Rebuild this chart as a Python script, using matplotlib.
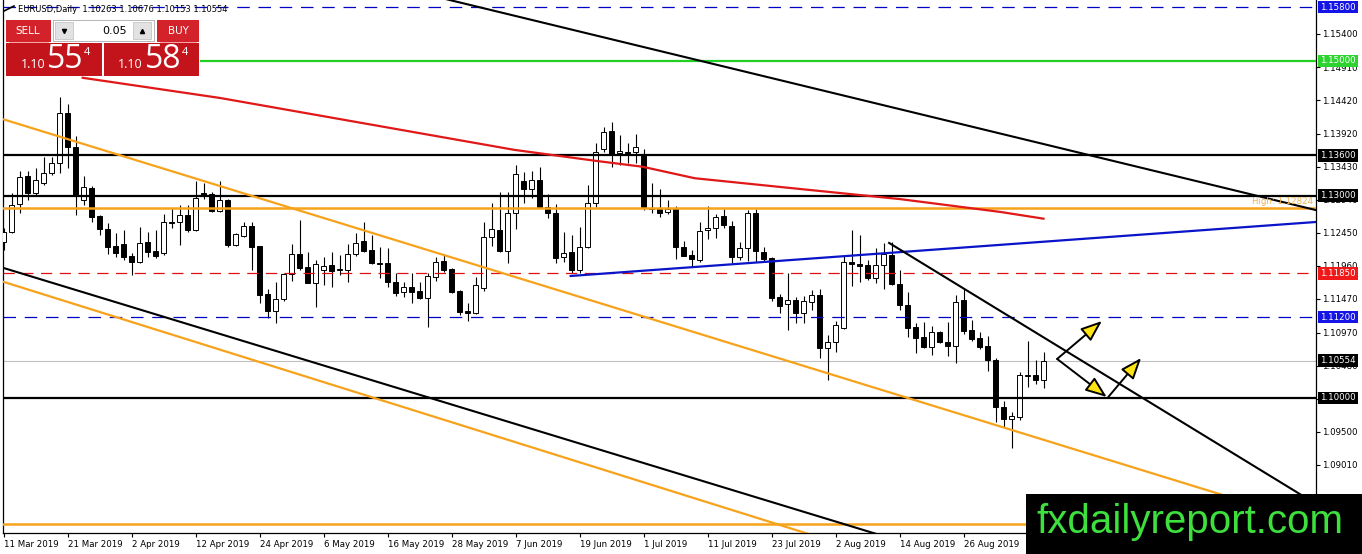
import matplotlib
matplotlib.use('Agg')
import matplotlib.pyplot as plt
import matplotlib.transforms as mtrans
from matplotlib.patches import Rectangle
import numpy as np
import pandas as pd

# ---------------- data ----------------
start_date = '2019-03-11'
opens = [1.1231, 1.1246, 1.1288, 1.1329, 1.1304, 1.1319, 1.1334, 1.1349, 1.1423, 1.1372,
         1.1294, 1.1312, 1.1270, 1.1251, 1.1225, 1.1228, 1.1211, 1.1202, 1.1231, 1.1218,
         1.1215, 1.1261, 1.1261, 1.1271, 1.1249, 1.1304, 1.1303, 1.1277, 1.1294, 1.1227,
         1.1240, 1.1255, 1.1225, 1.1154, 1.1129, 1.1147, 1.1184, 1.1214, 1.1194, 1.1171,
         1.1190, 1.1197, 1.1190, 1.1190, 1.1214, 1.1233, 1.1220, 1.1200, 1.1200, 1.1172,
         1.1157, 1.1165, 1.1159, 1.1148, 1.1180, 1.1203, 1.1191, 1.1159, 1.1129, 1.1126,
         1.1163, 1.1239, 1.1249, 1.1218, 1.1274, 1.1322, 1.1310, 1.1323, 1.1283, 1.1274,
         1.1209, 1.1217, 1.1190, 1.1224, 1.1289, 1.1369, 1.1396, 1.1363, 1.1365, 1.1365,
         1.1359, 1.1282, 1.1282, 1.1276, 1.1280, 1.1224, 1.1212, 1.1205, 1.1249, 1.1252,
         1.1270, 1.1255, 1.1209, 1.1223, 1.1274, 1.1217, 1.1208, 1.1150, 1.1139, 1.1145,
         1.1126, 1.1142, 1.1153, 1.1074, 1.1083, 1.1104, 1.1202, 1.1199, 1.1197, 1.1178,
         1.1197, 1.1212, 1.1169, 1.1138, 1.1105, 1.1090, 1.1076, 1.1098, 1.1083, 1.1077,
         1.1145, 1.1101, 1.1089, 1.1077, 1.1056, 1.0987, 1.0969, 1.0972, 1.1033, 1.1034,
         1.10263]
highs = [1.1252, 1.1304, 1.1337, 1.1337, 1.1341, 1.1358, 1.1358, 1.1447, 1.1436, 1.1389,
         1.1329, 1.1315, 1.1272, 1.1260, 1.1245, 1.1249, 1.1215, 1.1254, 1.1246, 1.1249,
         1.1273, 1.1282, 1.1286, 1.1286, 1.1322, 1.1319, 1.1306, 1.1322, 1.1295, 1.1245,
         1.1261, 1.1261, 1.1226, 1.1162, 1.1172, 1.1185, 1.1228, 1.1264, 1.1217, 1.1205,
         1.1209, 1.1217, 1.1212, 1.1228, 1.1245, 1.1261, 1.1242, 1.1224, 1.1223, 1.1185,
         1.1172, 1.1185, 1.1172, 1.1185, 1.1209, 1.1214, 1.1193, 1.1160, 1.1141, 1.1180,
         1.1261, 1.1289, 1.1306, 1.1306, 1.1346, 1.1335, 1.1337, 1.1343, 1.1303, 1.1288,
         1.1246, 1.1242, 1.1254, 1.1316, 1.1378, 1.1402, 1.1409, 1.1390, 1.1378, 1.1392,
         1.1369, 1.1319, 1.1310, 1.1294, 1.1285, 1.1233, 1.1220, 1.1261, 1.1285, 1.1273,
         1.1280, 1.1263, 1.1231, 1.1279, 1.1280, 1.1224, 1.1209, 1.1154, 1.1185, 1.1150,
         1.1151, 1.1160, 1.1162, 1.1093, 1.1114, 1.1211, 1.1249, 1.1242, 1.1205, 1.1223,
         1.1230, 1.1231, 1.1190, 1.1157, 1.1111, 1.1113, 1.1107, 1.1099, 1.1113, 1.1153,
         1.1163, 1.1116, 1.1098, 1.1092, 1.1059, 1.0996, 1.0979, 1.1039, 1.1085, 1.1056,
         1.10676]
lows = [1.1220, 1.1245, 1.1274, 1.1294, 1.1301, 1.1316, 1.1331, 1.1334, 1.1341, 1.1271,
        1.1286, 1.1261, 1.1242, 1.1214, 1.1209, 1.1205, 1.1182, 1.1200, 1.1209, 1.1208,
        1.1212, 1.1252, 1.1227, 1.1246, 1.1247, 1.1295, 1.1276, 1.1276, 1.1224, 1.1225,
        1.1239, 1.1190, 1.1141, 1.1119, 1.1111, 1.1144, 1.1174, 1.1190, 1.1170, 1.1135,
        1.1168, 1.1165, 1.1182, 1.1172, 1.1211, 1.1217, 1.1199, 1.1178, 1.1165, 1.1151,
        1.1150, 1.1141, 1.1147, 1.1105, 1.1174, 1.1187, 1.1156, 1.1123, 1.1114, 1.1125,
        1.1159, 1.1225, 1.1217, 1.1200, 1.1251, 1.1289, 1.1297, 1.1282, 1.1267, 1.1200,
        1.1202, 1.1185, 1.1185, 1.1223, 1.1283, 1.1365, 1.1343, 1.1346, 1.1349, 1.1349,
        1.1279, 1.1274, 1.1269, 1.1273, 1.1206, 1.1210, 1.1194, 1.1202, 1.1236, 1.1237,
        1.1252, 1.1200, 1.1205, 1.1203, 1.1202, 1.1202, 1.1144, 1.1126, 1.1101, 1.1111,
        1.1111, 1.1131, 1.1059, 1.1027, 1.1068, 1.1102, 1.1166, 1.1172, 1.1175, 1.1171,
        1.1162, 1.1168, 1.1131, 1.1090, 1.1067, 1.1074, 1.1064, 1.1082, 1.1062, 1.1052,
        1.1095, 1.1085, 1.1073, 1.1040, 1.0964, 1.0957, 1.0926, 1.0967, 1.1016, 1.1021,
        1.10153]
closes = [1.1246, 1.1286, 1.1328, 1.1304, 1.1323, 1.1334, 1.1349, 1.1423, 1.1372, 1.1300,
          1.1313, 1.1269, 1.1251, 1.1224, 1.1215, 1.1209, 1.1202, 1.1230, 1.1217, 1.1211,
          1.1261, 1.1260, 1.1271, 1.1249, 1.1297, 1.1300, 1.1277, 1.1294, 1.1227, 1.1243,
          1.1255, 1.1224, 1.1153, 1.1129, 1.1147, 1.1184, 1.1214, 1.1193, 1.1171, 1.1199,
          1.1196, 1.1188, 1.1191, 1.1214, 1.1230, 1.1218, 1.1200, 1.1199, 1.1172, 1.1156,
          1.1165, 1.1157, 1.1148, 1.1181, 1.1202, 1.1190, 1.1157, 1.1128, 1.1126, 1.1168,
          1.1239, 1.1251, 1.1218, 1.1274, 1.1332, 1.1310, 1.1323, 1.1283, 1.1274, 1.1208,
          1.1215, 1.1190, 1.1224, 1.1289, 1.1365, 1.1395, 1.1362, 1.1366, 1.1364, 1.1372,
          1.1283, 1.1281, 1.1274, 1.1280, 1.1224, 1.1211, 1.1206, 1.1248, 1.1252, 1.1269,
          1.1257, 1.1209, 1.1223, 1.1274, 1.1218, 1.1206, 1.1148, 1.1136, 1.1145, 1.1126,
          1.1144, 1.1153, 1.1074, 1.1083, 1.1108, 1.1202, 1.1199, 1.1196, 1.1178, 1.1197,
          1.1214, 1.1169, 1.1138, 1.1104, 1.1089, 1.1076, 1.1098, 1.1083, 1.1077, 1.1142,
          1.1099, 1.1088, 1.1076, 1.1056, 1.0987, 1.0969, 1.0973, 1.1034, 1.1034, 1.1027,
          1.10554]

# moving average (red) anchors: bar index, price
ma_idx = [9.9, 27.1, 63.9, 73.9, 79.9, 86.4, 99.6, 112.1, 124.6, 130.0]
ma_val = [1.1475, 1.1445, 1.1368, 1.1352, 1.1343, 1.1326, 1.1310, 1.1295, 1.1276, 1.1266]

# analyst trend lines: (bar index pair, price pair)
tl_top_black = ([50.0, 165.0], [1.1607, 1.1276])
tl_low_black = ([-1.0, 115.0], [1.11965, 1.0777])
tl_orange_up = ([-1.0, 165.0], [1.1417, 1.0810])
tl_orange_low = ([-1.0, 105.0], [1.1176, 1.0782])
tl_blue = ([70.9, 165.0], [1.1181, 1.12619])
tl_short_black = ([110.7, 165.0], [1.1230, 1.0836])
tl_green = ([24.7, 165.0], [1.1500, 1.1500])

# arrows (from, to) in bar index / price
arrows = [((131.7, 1.10579), (137.3, 1.11142)),
          ((131.7, 1.10579), (137.9, 1.10015)),
          ((138.1, 1.10015), (142.2, 1.10593))]

# horizontal levels
lvl_top_blue = 1.15800
lvl_green = 1.15000
lvl_black1 = 1.13600
lvl_black2 = 1.13000
lvl_high = 1.12824
lvl_red = 1.11850
lvl_blue = 1.11200
lvl_bid = 1.10554
lvl_black3 = 1.10000
lvl_orange_bottom = 1.0813

ytick_vals = [1.15400, 1.14910, 1.14420, 1.13920, 1.13430, 1.12940, 1.12450, 1.11960,
              1.11470, 1.10970, 1.10480, 1.09990, 1.09500, 1.09010, 1.08520]
xtick_idx = [0, 8, 16, 24, 32, 40, 48, 56, 64, 72, 80, 88, 96, 104, 112, 120]

header = 'EURUSD,Daily  1.10263 1.10676 1.10153 1.10554'
bid_big, ask_big = '55', '58'

# ---------------- figure ----------------
W, H = 1362, 554
plt.rcParams['font.family'] = ['DejaVu Sans']
fig = plt.figure(figsize=(W / 100, H / 100), dpi=100)
fig.patch.set_facecolor('white')

ax_l, ax_r, ax_t, ax_b = 2.5, 1316, 0, 533
ax = fig.add_axes([ax_l / W, (H - ax_b) / H, (ax_r - ax_l) / W, (ax_b - ax_t) / H])
ax.set_facecolor('white')
ax.set_xlim(-0.125, 164.06)
ax.set_ylim(1.07997, 1.15904)

n = len(opens)
idx = np.arange(n)
o = np.array(opens); h = np.array(highs); l = np.array(lows); c = np.array(closes)
up = c >= o

ax.vlines(idx, l, h, color='black', lw=0.8, zorder=3)
body_b = np.minimum(o, c)
body_h = np.maximum(np.abs(c - o), 0.00002)
ax.bar(idx, body_h, bottom=body_b, width=0.62,
       color=np.where(up, 'white', 'black'), edgecolor='black', linewidth=0.7, zorder=4)

ORANGE = '#f7a21b'
# horizontal lines
ax.axhline(lvl_top_blue, color='#0000c0', lw=0.9, ls=(0, (10, 7)), zorder=5)
ax.axhline(lvl_black1, color='black', lw=1.6, zorder=5)
ax.axhline(lvl_black2, color='black', lw=1.6, zorder=5)
ax.axhline(lvl_high, color=ORANGE, lw=1.8, zorder=5)
ax.axhline(lvl_red, color='#e01010', lw=0.9, ls=(0, (9, 6)), zorder=5)
ax.axhline(lvl_blue, color='#0000c0', lw=0.9, ls=(0, (10, 7)), zorder=5)
ax.axhline(lvl_bid, color='#c0c0c0', lw=0.8, zorder=2)
ax.axhline(lvl_black3, color='black', lw=1.6, zorder=5)
ax.axhline(lvl_orange_bottom, color=ORANGE, lw=1.8, zorder=5)

# trend lines
ax.plot(*tl_green, color='#22d022', lw=1.6, zorder=5)
ax.plot(*tl_top_black, color='black', lw=1.5, zorder=5)
ax.plot(*tl_low_black, color='black', lw=1.5, zorder=5)
ax.plot(*tl_orange_up, color=ORANGE, lw=1.6, zorder=5)
ax.plot(*tl_orange_low, color=ORANGE, lw=1.6, zorder=5)
ax.plot(*tl_blue, color='#0a14c8', lw=1.6, zorder=5)
ax.plot(*tl_short_black, color='black', lw=1.5, zorder=5)
ax.plot(ma_idx, ma_val, color='#e01818', lw=1.6, zorder=5)

for (x0, y0), (x1, y1) in arrows:
    ax.annotate('', xy=(x1, y1), xytext=(x0, y0),
                arrowprops=dict(arrowstyle='-|>,head_length=1.3,head_width=0.5',
                                fc='#ffe414', ec='black', lw=1.4,
                                shrinkA=0, shrinkB=0), zorder=7)

ax.text(0.998, lvl_high + 0.0002, 'High: 1.12824',
        transform=mtrans.blended_transform_factory(ax.transAxes, ax.transData),
        ha='right', va='bottom', fontsize=6.2, color='#f0b24a', zorder=6)

# spines and ticks
ax.spines['top'].set_visible(False)
for s in ['left', 'right', 'bottom']:
    ax.spines[s].set_linewidth(0.9)
    ax.spines[s].set_color('black')

ax.yaxis.tick_right()
ax.set_yticks(ytick_vals)
ax.set_yticklabels([f'{v:.5f}' for v in ytick_vals])
ax.tick_params(axis='y', direction='out', length=3, width=0.8, labelsize=6.2, pad=1.5)

dates = pd.bdate_range(start_date, periods=n)
ax.set_xticks(xtick_idx)
ax.set_xticklabels([f'{dates[i].day} {dates[i].strftime("%b %Y")}' for i in xtick_idx])
ax.tick_params(axis='x', direction='out', length=3, width=0.8, labelsize=6.2, pad=2)
for t in ax.get_xticklabels():
    t.set_horizontalalignment('left')

# price boxes on the right axis
btrans = mtrans.blended_transform_factory(ax.transAxes, ax.transData)
boxes = [(lvl_top_blue, '#1414e6'), (lvl_green, '#2fd32f'), (lvl_black1, 'black'),
         (lvl_black2, 'black'), (lvl_red, '#f01818'), (lvl_blue, '#1414e6'),
         (lvl_bid, 'black'), (lvl_black3, 'black')]
for val, col in boxes:
    ax.text(1.0 + 4 / 1313.5, val, f'{val:.5f}', transform=btrans, ha='left', va='center',
            fontsize=6.2, color='white', clip_on=False, zorder=20,
            bbox=dict(boxstyle='square,pad=0.22', fc=col, ec='none'))

# ---------------- overlay: header, trade panel, logo ----------------
ov = fig.add_axes([0, 0, 1, 1])
ov.set_xlim(0, W); ov.set_ylim(H, 0)
ov.axis('off'); ov.patch.set_alpha(0)

ov.text(18, 10, header, fontsize=6.0, va='center', ha='left', color='black')
ov.plot([4, 14], [11, 6], color='black', lw=1.2)

RED = '#d4222a'; RED2 = '#c3141b'
ov.add_patch(Rectangle((6, 20), 45, 22, fc=RED, ec='none'))
ov.add_patch(Rectangle((157, 20), 42, 22, fc=RED, ec='none'))
ov.add_patch(Rectangle((53, 20), 101, 21, fc='white', ec='#b5b5b5', lw=0.7))
ov.add_patch(Rectangle((55, 22), 18, 17, fc='#e2e2e2', ec='#c6c6c6', lw=0.6))
ov.add_patch(Rectangle((133, 22), 18, 17, fc='#e2e2e2', ec='#c6c6c6', lw=0.6))
ov.plot([64], [30.5], marker='v', ms=3, color='black')
ov.plot([142], [30.5], marker='^', ms=3, color='black')
ov.text(127, 31, '0.05', ha='right', va='center', fontsize=8, color='black')
ov.add_patch(Rectangle((6, 43), 96, 33, fc=RED2, ec='none'))
ov.add_patch(Rectangle((104, 43), 95, 33, fc=RED2, ec='none'))
ov.plot([9, 48], [41.5, 41.5], color='#f08080', lw=0.5)
ov.plot([160, 196], [41.5, 41.5], color='#f08080', lw=0.5)
ov.text(28, 31, 'SELL', ha='center', va='center', fontsize=7.5, color='white')
ov.text(178, 31, 'BUY', ha='center', va='center', fontsize=7.5, color='white')
for x_small, x_big, x_sup, big in [(33, 65, 87, bid_big), (130, 163, 185, ask_big)]:
    ov.text(x_small, 68, '1.10', ha='center', va='baseline', fontsize=9, color='white', family='Open Sans')
    ov.text(x_big, 68.5, big, ha='center', va='baseline', fontsize=23, color='white', family='Open Sans')
    ov.text(x_sup, 55, '4', ha='center', va='baseline', fontsize=8, color='white', family='Open Sans')

ov.add_patch(Rectangle((1026, 494), W - 1026, H - 494, fc='black', ec='none'))
ov.text(1190, 533, 'fxdailyreport.com', ha='center', va='baseline', fontsize=29,
        color='#3ee03e', family='Liberation Sans')

fig.savefig('out.png', dpi=100, facecolor='white')
